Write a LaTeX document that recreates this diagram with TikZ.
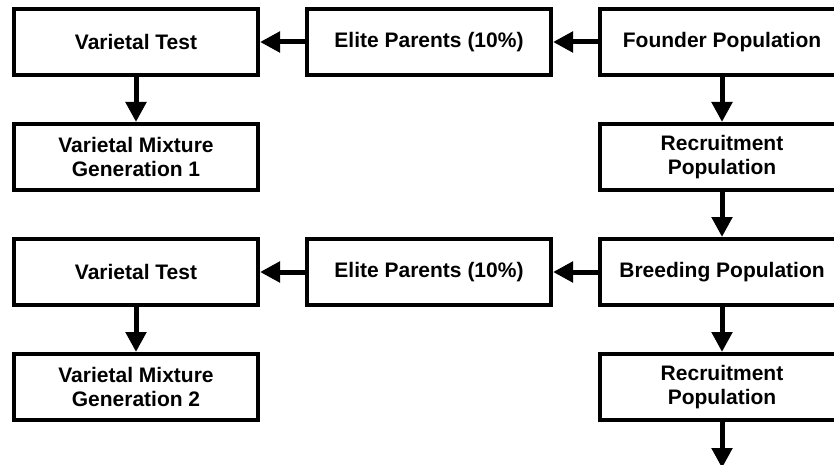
\documentclass[tikz,border=0pt]{standalone}
\usepackage{fontspec}
\setmainfont{Liberation Sans}
\usetikzlibrary{arrows.meta, positioning}

\begin{document}
\begin{tikzpicture}[
  node distance=45pt and 45pt,
  box/.style={draw, line width=4pt, align=center, minimum width=244pt, minimum height=66pt,
    font=\fontsize{21}{24}\selectfont\bfseries},
  arrow/.style={line width=5pt, -{Triangle[length=20pt, width=20pt]}}
]
\clip (0,0) rectangle (834pt,-465pt);

% Nodes
\node[box] (test1) at (136pt,-42pt) {Varietal Test};
\node[box] (elite1) [right=of test1] {Elite Parents (10\%)};
\node[box] (founder) [right=of elite1] {Founder Population};
\node[box] (mix1) [below=of test1] {Varietal Mixture \\ Generation 1};
\node[box] (recruit1) [below=of founder] {Recruitment \\ Population};

\node[box] (breeding) [below=of recruit1] {Breeding Population};
\node[box] (elite2) [left=of breeding] {Elite Parents (10\%)};
\node[box] (test2) [left=of elite2] {Varietal Test};
\node[box] (mix2) [below=of test2] {Varietal Mixture \\ Generation 2};
\node[box] (recruit2) [below=of breeding] {Recruitment \\ Population};
\coordinate (next) at ([yshift=-46pt]recruit2.south);

% Arrows
\draw [arrow] (founder) -- (elite1);
\draw [arrow] (elite1) -- (test1);
\draw [arrow] (test1) -- (mix1);
\draw [arrow] (founder) -- (recruit1);
\draw [arrow] (recruit1) -- (breeding);
\draw [arrow] (breeding) -- (elite2);
\draw [arrow] (elite2) -- (test2);
\draw [arrow] (test2) -- (mix2);
\draw [arrow] (breeding) -- (recruit2);
\draw [arrow] (recruit2) -- (next);

\end{tikzpicture}
\end{document}
